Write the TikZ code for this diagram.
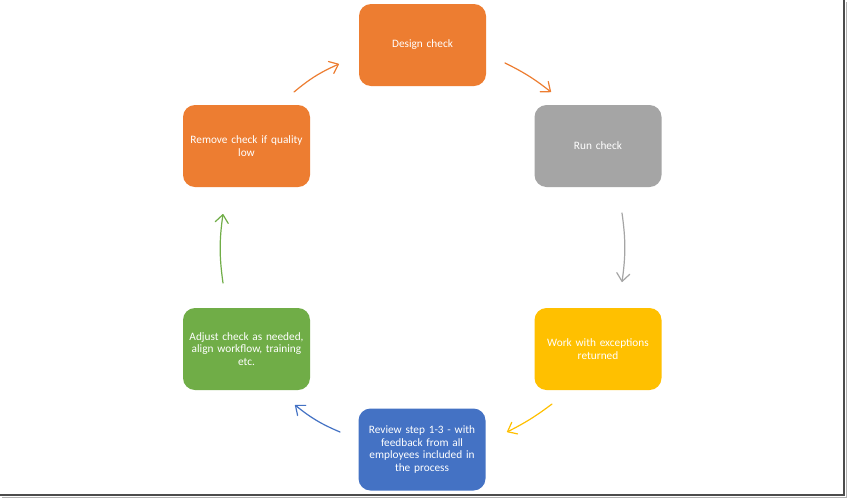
\documentclass[tikz,border=0pt]{standalone}
\usepackage{fontspec}
\setmainfont{Carlito}
\usetikzlibrary{arrows.meta}
\definecolor{checkorange}{HTML}{ED7D31}
\definecolor{checkgray}{HTML}{A5A5A5}
\definecolor{checkyellow}{HTML}{FFC000}
\definecolor{checkblue}{HTML}{4472C4}
\definecolor{checkgreen}{HTML}{70AD47}
\tikzset{
	stepbox/.style={rectangle, rounded corners=12pt, minimum width=127pt, minimum height=82pt,
		text width=124pt, align=center, inner sep=0pt, text=white,
		font=\fontsize{11.3}{12.6}\selectfont},
	flow/.style={line width=1.2pt, line cap=round, -{Straight Barb[length=8pt,width=13pt,round]}},
}

\begin{document}
\begin{tikzpicture}[x=1pt, y=-1pt]
			%%%%% START %%%%%
			\useasboundingbox (0, 0) rectangle (847, 499);
			\fill[white] (0, 0) rectangle (847, 499);
			
			% frame shadow
			\draw[line width=2.5pt, color=black!70] (844, 0) -- (844, 495) -- (0, 495);
			\draw[line width=1pt, color=black!30] (846.5, 2) -- (846.5, 497.5) -- (2, 497.5);
			
			\node[stepbox, fill=checkorange] (design) at (422.5, 45) {Design check};
			\node[stepbox, fill=checkgray] (run) at (598, 146) {Run check};
			\node[stepbox, fill=checkyellow] (work) at (598, 349) {Work with exceptions\\returned};
			\node[stepbox, fill=checkblue] (review) at (422, 449.5) {Review step 1-3 - with\\feedback from all\\employees included in\\the process};
			\node[stepbox, fill=checkgreen] (adjust) at (246.5, 349) {Adjust check as needed,\\align workflow, training\\etc.};
			\node[stepbox, fill=checkorange] (remove) at (246.5, 146) {Remove check if quality\\low};
			
			\coordinate (design-out) at (505, 63);
			\coordinate (run-in) at (551, 92);
			\coordinate (run-out) at (622, 213);
			\coordinate (work-in) at (622, 282);
			\coordinate (work-out) at (552, 404);
			\coordinate (review-in) at (507, 432);
			\coordinate (review-out) at (340, 432);
			\coordinate (adjust-in) at (295, 405);
			\coordinate (adjust-out) at (223, 283);
			\coordinate (remove-in) at (223, 214);
			\coordinate (remove-out) at (294, 92);
			\coordinate (design-in) at (339, 64);
			
			\draw[flow, color=checkorange] (design-out) to[bend left=6] (run-in);
			\draw[flow, color=checkgray] (run-out) to[bend left=8] (work-in);
			\draw[flow, color=checkyellow] (work-out) to[bend left=5] (review-in);
			\draw[flow, color=checkblue] (review-out) to[bend left=8] (adjust-in);
			\draw[flow, color=checkgreen] (adjust-out) to[bend left=8] (remove-in);
			\draw[flow, color=checkorange] (remove-out) to[bend left=8] (design-in);
			
			%%%%% END %%%%%
		\end{tikzpicture}
\end{document}
